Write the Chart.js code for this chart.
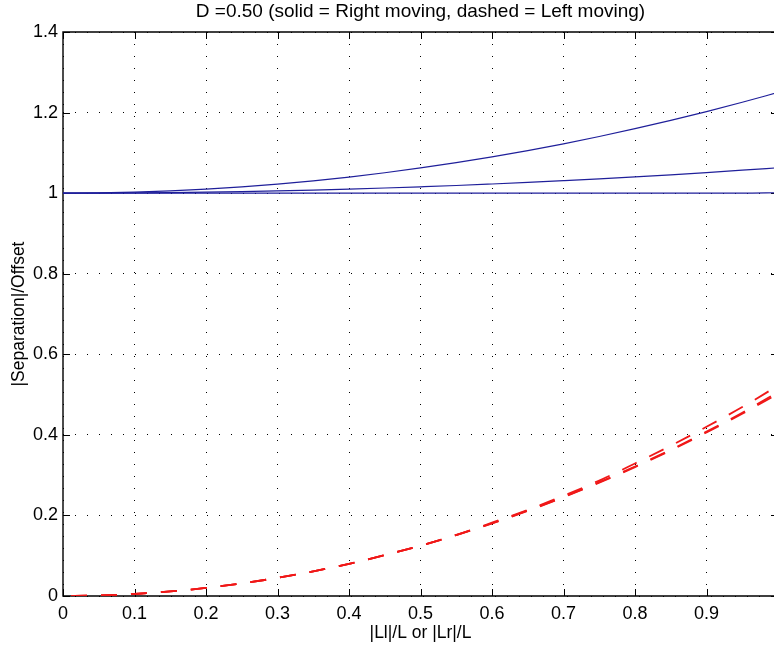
<!DOCTYPE html>
<html>
<head>
<meta charset="utf-8">
<script src="https://cdn.jsdelivr.net/npm/chart.js@4/dist/chart.umd.min.js"></script>
<style>
html,body{margin:0;padding:0;overflow:hidden;background:#fff;width:774px;height:650px}
#wrap{position:absolute;left:0;top:0;width:800px;height:650px}
</style>
</head>
<body>
<div id="wrap"><canvas id="c" width="800" height="650"></canvas></div>
<script>
// ---- data ----
const titleText = 'D =0.50 (solid = Right moving, dashed = Left moving)';
const xTitle = '|Ll|/L or |Lr|/L';
const yTitle = '|Separation|/Offset';
const xValues = [0,0.05,0.1,0.15,0.2,0.25,0.3,0.35,0.4,0.45,0.5,0.55,0.6,0.65,0.7,0.75,0.8,0.85,0.9,0.95,1.0];
const rightMovingA = [1,1,1,1,1,1,1,1,1,1,1,1,1,1,1,1,1,1,1,1,1.001];
const rightMovingB = [1,1.0002,1.0006,1.0014,1.0025,1.0039,1.0057,1.0077,1.0101,1.0128,1.0158,1.019,1.0227,1.0266,1.0309,1.0354,1.0403,1.0455,1.051,1.0569,1.063];
const rightMovingC = [1,1.0006,1.0025,1.0056,1.01,1.0156,1.0225,1.0306,1.04,1.0506,1.0625,1.0756,1.09,1.1056,1.1225,1.1406,1.16,1.1806,1.2025,1.2256,1.25];
const leftMovingA = [0,0.0013,0.005,0.0113,0.02,0.0313,0.045,0.0613,0.08,0.1013,0.125,0.1515,0.182,0.2135,0.249,0.2865,0.329,0.373,0.42,0.469,0.522];
const leftMovingB = [0,0.0013,0.005,0.0113,0.02,0.0313,0.045,0.0613,0.08,0.1013,0.125,0.1513,0.1805,0.212,0.246,0.2825,0.3215,0.363,0.408,0.455,0.506];
const leftMovingC = [0,0.0013,0.005,0.0113,0.02,0.0313,0.045,0.0613,0.08,0.1013,0.125,0.1513,0.18,0.2113,0.245,0.2813,0.32,0.3613,0.406,0.4525,0.502];
const xTicks = {min:0, max:1, step:0.1};
const yTicks = {min:0, max:1.4, step:0.2};

const FONT = '"Liberation Sans", Arial, Helvetica, sans-serif';
const BLUE = '#1f1f9a';
const RED = '#f01818';

const pts = arr => xValues.map((x,i)=>({x:x, y:arr[i]}));
const solid = (arr) => ({data:pts(arr), borderColor:BLUE, borderWidth:1.2, pointRadius:0, fill:false, cubicInterpolationMode:'monotone'});
const dashed = (arr, off) => ({data:pts(arr), borderColor:RED, borderWidth:1.8, borderDash:[16,14], borderDashOffset:off, pointRadius:0, fill:false, cubicInterpolationMode:'monotone'});

const fmt = v => { const n = Math.round(v*10)/10; return String(n); };

const frame = {
  id:'frame',
  beforeDatasetsDraw(chart){
    const {ctx, chartArea:a, scales:{x,y}} = chart;
    const L = Math.round(a.left), R = Math.round(a.right), T = Math.round(a.top), B = Math.round(a.bottom);
    ctx.save();
    ctx.strokeStyle = '#000';
    ctx.lineWidth = 1;
    ctx.beginPath();
    x.ticks.forEach(t=>{
      const p = Math.round(x.getPixelForValue(t.value))+0.5;
      ctx.moveTo(p,B); ctx.lineTo(p,B-7);
      ctx.moveTo(p,T); ctx.lineTo(p,T+7);
    });
    y.ticks.forEach(t=>{
      const p = Math.round(y.getPixelForValue(t.value))+0.5;
      ctx.moveTo(L,p); ctx.lineTo(L+7,p);
      ctx.moveTo(R,p); ctx.lineTo(R-7,p);
    });
    ctx.stroke();
    ctx.lineWidth = 1.4;
    ctx.beginPath();
    ctx.rect(L, T, R-L, B-T);
    ctx.stroke();
    ctx.restore();
  }
};

new Chart(document.getElementById('c'), {
  type:'line',
  data:{datasets:[
    solid(rightMovingA), solid(rightMovingB), solid(rightMovingC),
    dashed(leftMovingA, -8), dashed(leftMovingB, -8), dashed(leftMovingC, -8)
  ]},
  options:{
    responsive:false, animation:false, devicePixelRatio:1,
    layout:{padding:{left:0,right:22,top:0,bottom:0}},
    plugins:{
      legend:{display:false}, tooltip:{enabled:false},
      title:{display:true, text:titleText, fullSize:false, color:'#000',
        font:{family:FONT,size:19,weight:'normal',lineHeight:1.2}, padding:{top:0,bottom:9.2}}
    },
    scales:{
      x:{type:'linear', min:xTicks.min, max:xTicks.max,
        afterFit(s){ s.height = 54; },
        ticks:{stepSize:xTicks.step, color:'#000', font:{family:FONT,size:18}, padding:7, maxRotation:0, autoSkip:false, callback:v=>fmt(v)},
        grid:{color:'#000', lineWidth:1, drawTicks:false},
        border:{display:false, dash:[1,11]},
        title:{display:true, text:xTitle, color:'#000', font:{family:FONT,size:17.5}, padding:{top:4,bottom:6}}
      },
      y:{type:'linear', min:yTicks.min, max:yTicks.max,
        afterFit(s){ s.width = 63; },
        ticks:{stepSize:yTicks.step, color:'#000', font:{family:FONT,size:18}, padding:5, autoSkip:false, callback:v=>fmt(v)},
        grid:{color:'#000', lineWidth:1, drawTicks:false},
        border:{display:false, dash:[1,11]},
        title:{display:true, text:yTitle, color:'#000', font:{family:FONT,size:17.5}, padding:{top:9,bottom:4}}
      }
    }
  },
  plugins:[frame]
});
</script>
</body>
</html>
